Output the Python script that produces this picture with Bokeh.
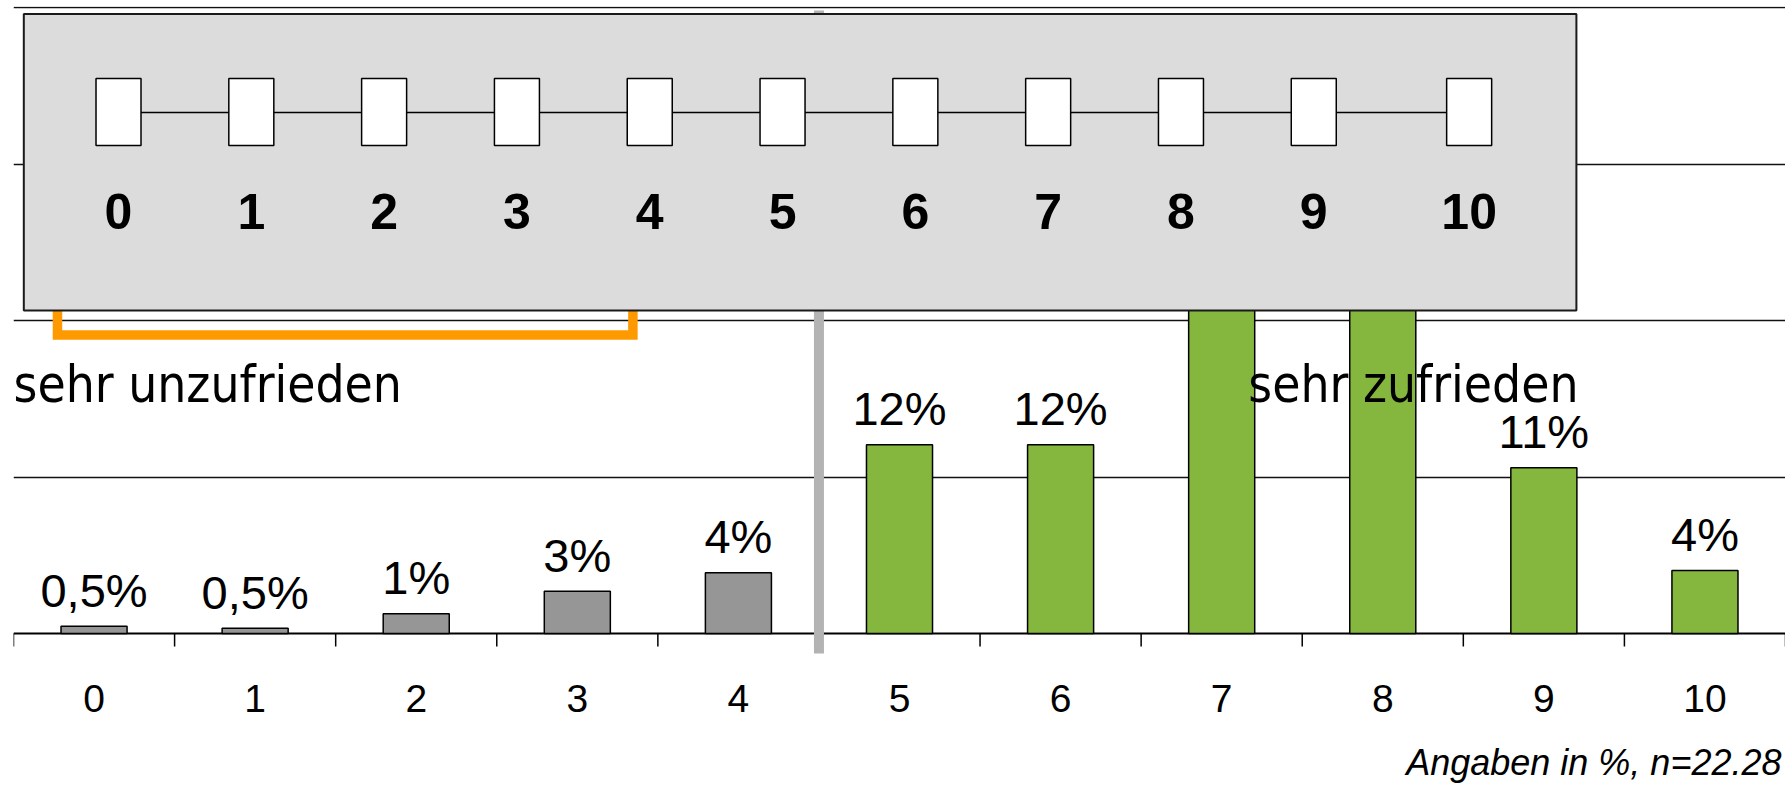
from bokeh.plotting import figure
from bokeh.models import Range1d, FixedTicker, ColumnDataSource
from bokeh.core.properties import value
from bokeh.embed import file_html
from bokeh.resources import INLINE

# ---- data -------------------------------------------------------------
categories = [0, 1, 2, 3, 4, 5, 6, 7, 8, 9, 10]
shares = [0.47, 0.34, 1.26, 2.70, 3.88, 12.06, 12.06, 24.6, 28.0, 10.6, 4.03]
share_labels = ["0,5%", "0,5%", "1%", "3%", "4%", "12%", "12%", "25%", "28%", "11%", "4%"]
groups = ["unzufrieden"] * 5 + ["zufrieden"] * 6
tick_labels = [str(c) for c in categories]
scale_points = [0, 1, 2, 3, 4, 5, 6, 7, 8, 9, 10.17]
scale_labels = ["0", "1", "2", "3", "4", "5", "6", "7", "8", "9", "10"]
grid_values = [10, 20, 30, 40]
footer_text = "Angaben in %, n=22.28"

group_colors = {"unzufrieden": "#969696", "zufrieden": "#85B73F"}
colors = [group_colors[g] for g in groups]

src = ColumnDataSource(dict(x=categories, top=shares, label=share_labels, color=colors))

p = figure(width=1785, height=787,
           x_range=Range1d(-0.5, 10.5), y_range=Range1d(-9.845, 40.083),
           output_backend="svg", toolbar_location=None,
           x_axis_location=None, y_axis_location=None,
           min_border_left=13, min_border_right=0, min_border_top=6,
           min_border_bottom=0)
p.outline_line_color = None
p.background_fill_color = "white"
p.border_fill_color = "white"
p.xgrid.visible = False
p.ygrid.ticker = FixedTicker(ticks=grid_values)
p.ygrid.grid_line_color = "#111111"
p.ygrid.grid_line_width = 1.3

# baseline, category boundary ticks and category labels
bounds = [c - 0.5 for c in categories] + [categories[-1] + 0.5]
p.segment(x0=[bounds[0]], x1=[bounds[-1]], y0=[0], y1=[0], line_color="black", line_width=2)
p.segment(x0=bounds, x1=bounds, y0=[0] * len(bounds), y1=[-0.83] * len(bounds),
          line_color="black", line_width=1.5)
p.text(x=categories, y=[-5.05] * len(categories), text=tick_labels, text_align="center",
       text_baseline="alphabetic", y_offset=-14,
       text_font=value("Liberation Sans"), text_font_size="39px", text_color="black")

# bars
p.vbar(x="x", top="top", width=0.41, bottom=0, source=src,
       fill_color="color", line_color="black", line_width=1.5)
p.text(x="x", y="top", text="label", source=src, text_align="center",
       text_baseline="alphabetic", y_offset=-36,
       text_font=value("Liberation Sans"), text_font_size="47px", text_color="black")

# end captions
p.text(x=[-0.5], y=[14.77], text=["sehr unzufrieden"], text_align="left",
       text_baseline="alphabetic", y_offset=-18, text_font=value("DejaVu Sans Condensed"),
       text_font_size="51px", text_color="black")
p.text(x=[8.19], y=[14.77], text=["sehr zufrieden"], text_align="center",
       text_baseline="alphabetic", y_offset=-18, text_font=value("DejaVu Sans Condensed"),
       text_font_size="51px", text_color="black")

# separator between groups
p.segment(x0=[4.5], x1=[4.5], y0=[39.83], y1=[-1.28], line_color="#B3B3B3", line_width=10)

# orange bracket
p.line(x=[-0.227, -0.227, 3.345, 3.345], y=[21.0, 19.08, 19.08, 21.0],
       line_color="#FF9900", line_width=9.5, line_join="miter")

# inset scale box
p.quad(left=[-0.436], right=[9.202], bottom=[20.65], top=[39.6],
       fill_color="#DCDCDC", line_color="#1a1a1a", line_width=2)

p.extra_x_ranges = {"scale": Range1d(-0.7907, 12.552)}
p.line(x=[scale_points[0], scale_points[-1]], y=[33.31, 33.31], x_range_name="scale",
       line_color="black", line_width=1.5)
p.rect(x=scale_points, y=[33.34] * len(scale_points), width=45, height=67,
       width_units="screen", height_units="screen", x_range_name="scale",
       fill_color="white", line_color="black", line_width=1.5)
p.text(x=scale_points, y=[25.76] * len(scale_points), text=scale_labels, x_range_name="scale",
       text_align="center", text_baseline="alphabetic", y_offset=-19,
       text_font=value("Liberation Sans"), text_font_style="bold",
       text_font_size="50px", text_color="black")

# footer note
p.text(x=[10.5], y=[-9.46], text=[footer_text], text_align="right",
       text_baseline="alphabetic", x_offset=-4, y_offset=-19,
       text_font=value("Liberation Sans"), text_font_style="italic",
       text_font_size="36px", text_color="black")

open("out.html", "w").write(file_html(p, INLINE))
